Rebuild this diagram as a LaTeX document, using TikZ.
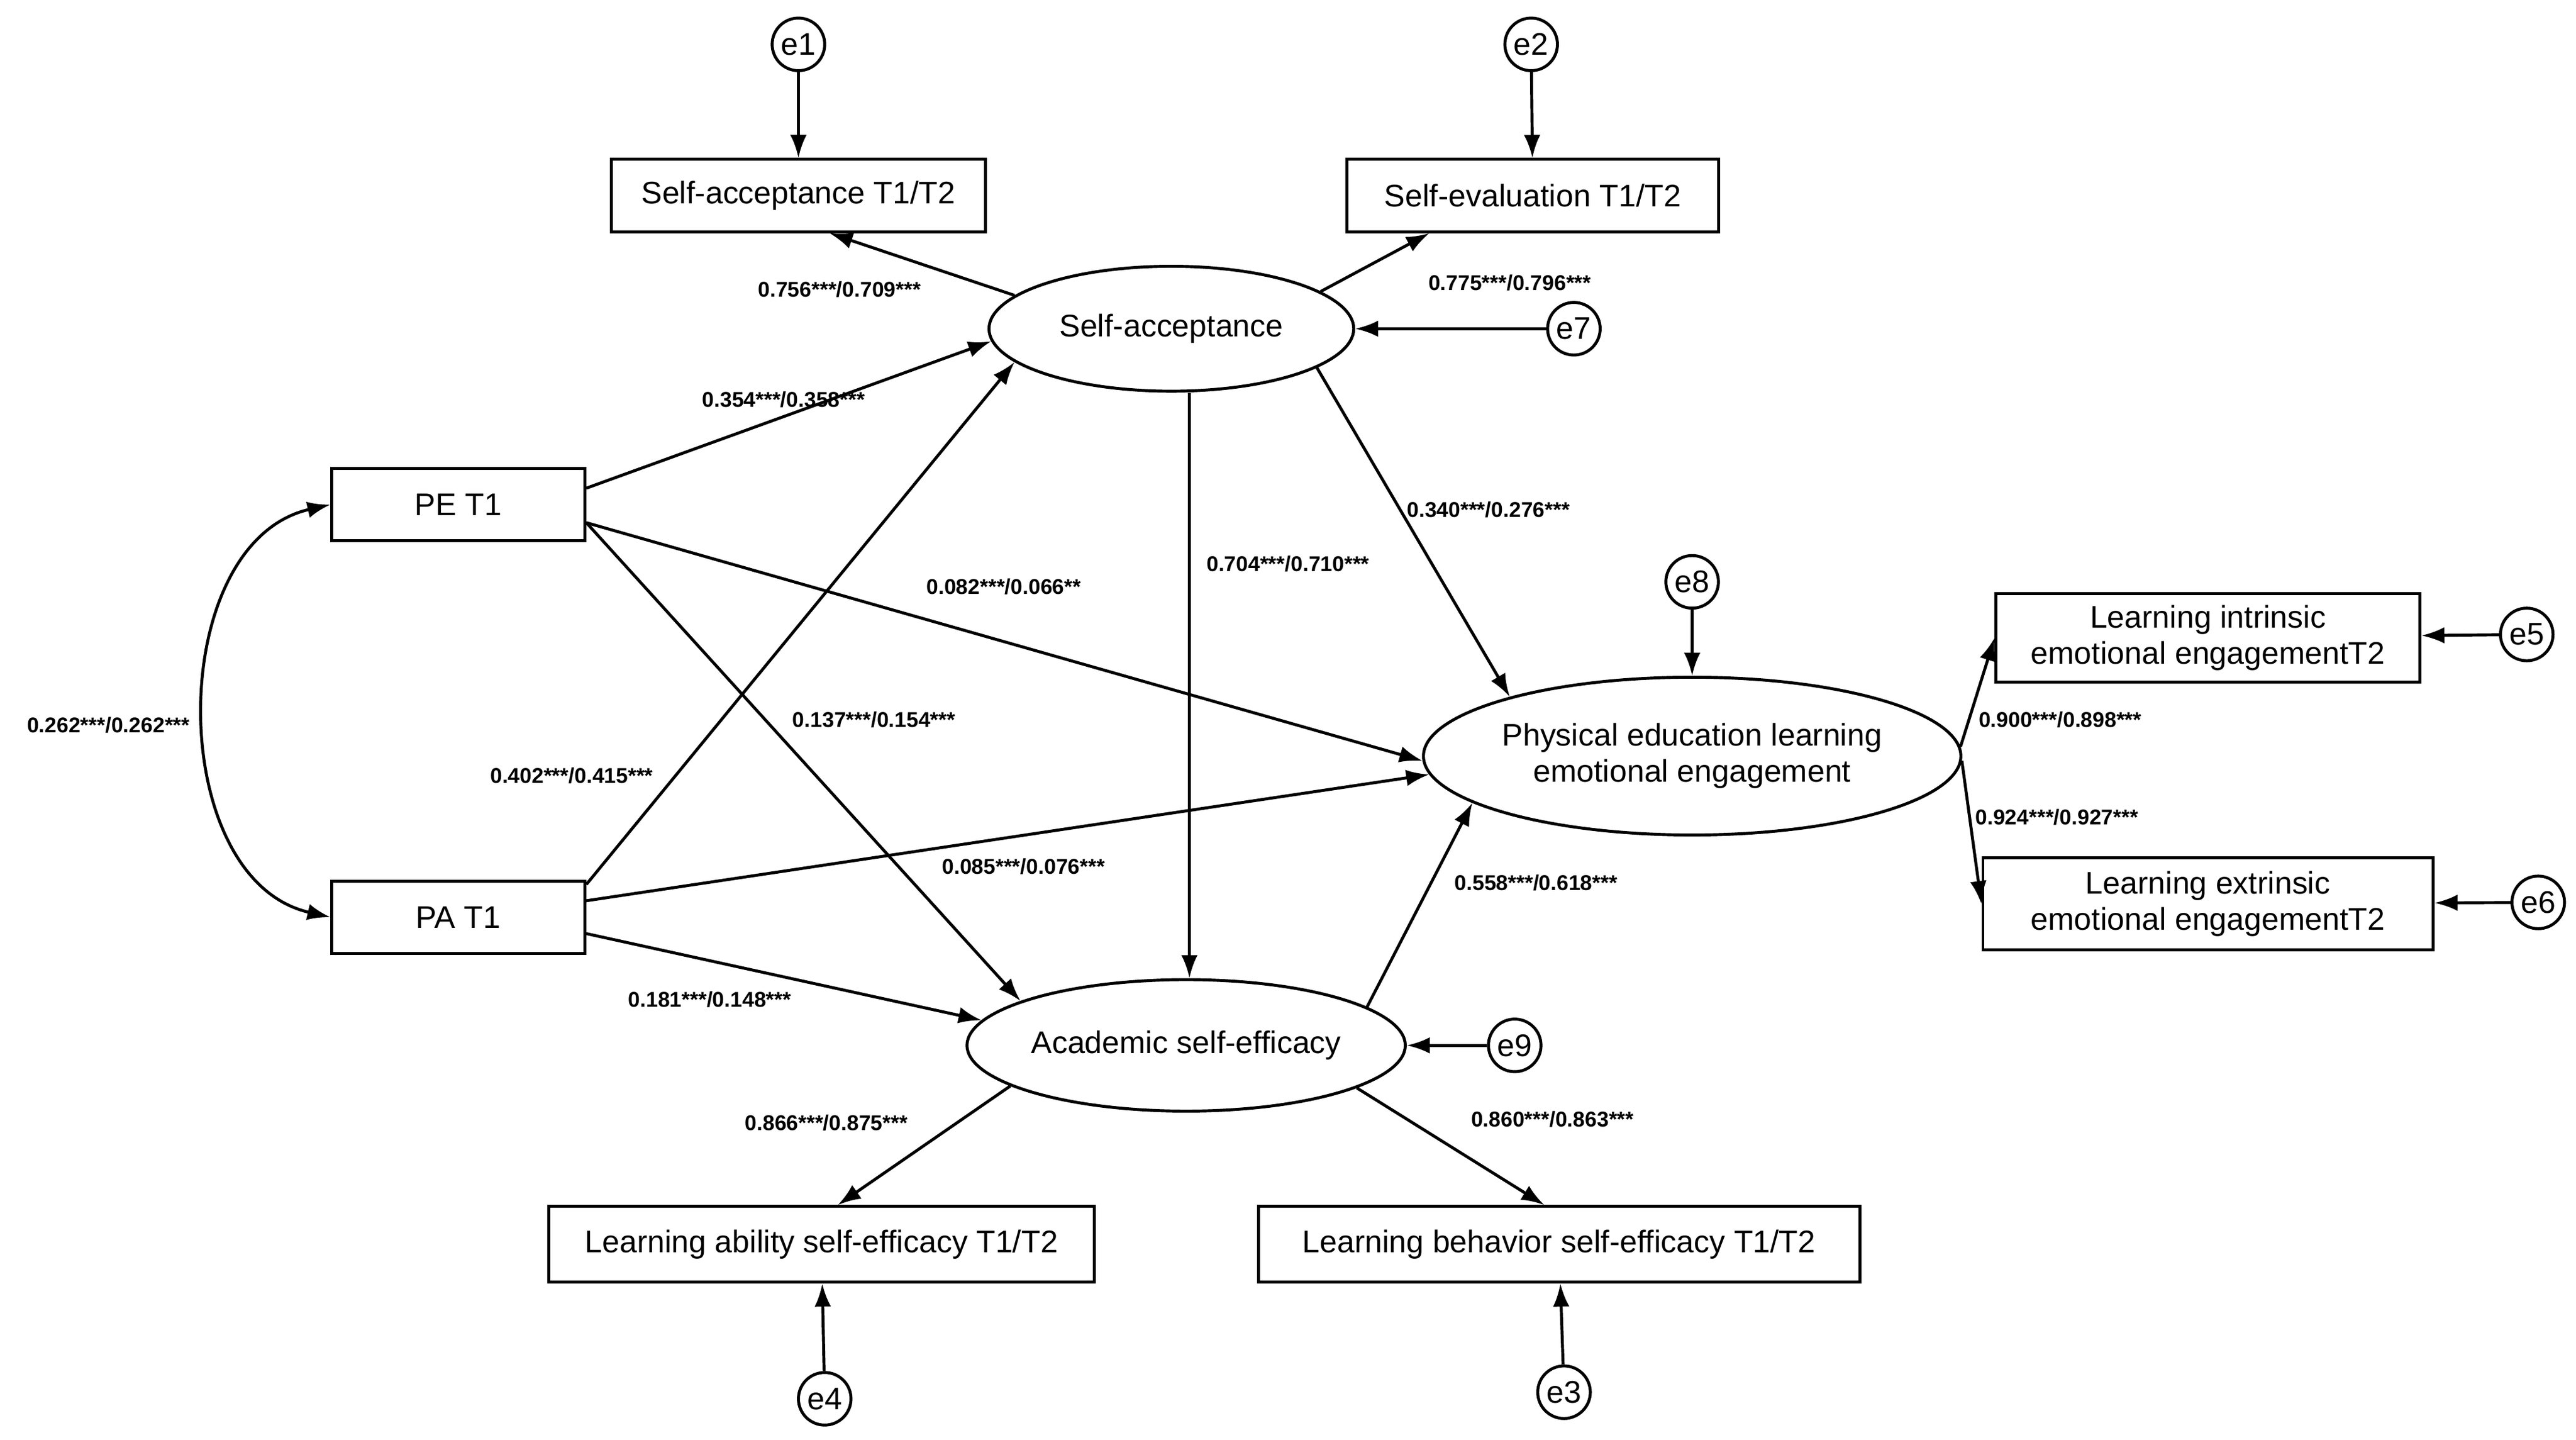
\documentclass[tikz,border=0pt]{standalone}
\usepackage{fontspec}
\setmainfont{Liberation Sans}
\usetikzlibrary{arrows.meta,shapes.geometric,calc}
\begin{document}
\begin{tikzpicture}[x=0.5pt,y=-0.5pt,
  box/.style={draw,line width=0.9pt,minimum height=22pt,inner sep=2pt,font=\fontsize{9.5}{11}\selectfont,align=center},
  lat/.style={draw,ellipse,line width=0.9pt,inner sep=0pt,font=\fontsize{9.5}{11}\selectfont,align=center},
  err/.style={draw,circle,line width=0.9pt,minimum size=16pt,inner sep=0pt,font=\fontsize{9.5}{11}\selectfont},
  arr/.style={line width=0.9pt,-{Latex[length=7pt,width=5pt]}},
  lab/.style={font=\fontsize{6.5}{7}\selectfont\bfseries,inner sep=1pt}]
\useasboundingbox (0,0) rectangle (1568,876);
% observed variables
\node[box,minimum width=114pt] (sa12) at (486,119) {Self-acceptance T1/T2};
\node[box,minimum width=113pt] (se12) at (933,119) {Self-evaluation T1/T2};
\node[box,minimum width=77pt] (pe) at (279,307) {PE T1};
\node[box,minimum width=77pt] (pa) at (279,558) {PA T1};
\node[box,minimum width=129pt,minimum height=27pt,inner sep=1pt] (lie) at (1344,388) {Learning intrinsic\\emotional engagementT2};
\node[box,minimum width=137pt,minimum height=28pt,inner sep=1pt] (lee) at (1344,550) {Learning extrinsic\\emotional engagementT2};
\node[box,minimum width=166pt,minimum height=23pt] (lab1) at (500,757) {Learning ability self-efficacy T1/T2};
\node[box,minimum width=183pt,minimum height=23pt] (lbe) at (949,757) {Learning behavior self-efficacy T1/T2};
% latent variables
\node[lat,minimum width=111pt,minimum height=38pt] (sa) at (713,200) {Self-acceptance};
\node[lat,minimum width=146pt,minimum height=48pt] (pel) at (1030,460) {Physical education learning\\emotional engagement};
\node[lat,minimum width=118pt,minimum height=40pt] (ase) at (722,636) {Academic self-efficacy};
% errors
\node[err] (e1) at (486,27) {e1};
\node[err] (e2) at (932,27) {e2};
\node[err] (e7) at (958,200) {e7};
\node[err] (e8) at (1030,354) {e8};
\node[err] (e5) at (1538,386) {e5};
\node[err] (e6) at (1545,549) {e6};
\node[err] (e9) at (922,636) {e9};
\node[err] (e4) at (502,851) {e4};
\node[err] (e3) at (952,847) {e3};
% error arrows
\draw[arr] (e1) -- (sa12);
\draw[arr] (e2) -- (se12);
\draw[arr] (e7) -- (sa);
\draw[arr] (e8) -- (pel);
\draw[arr] (e5) -- (lie);
\draw[arr] (e6) -- (lee);
\draw[arr] (e9) -- (ase);
\draw[arr] (e4) -- (lab1);
\draw[arr] (e3) -- (lbe);
% loadings
\draw[arr] (sa.168) -- ($(sa12.south)+(19,0)$);
\draw[arr] (sa.14) -- ($(se12.south)+(-63,0)$);
\draw[arr] (ase.193) -- ($(lab1.north)+(10,0)$);
\draw[arr] (ase.-14) -- ($(lbe.north)+(-9,0)$);
\draw[arr] (pel.2) -- (lie.west);
\draw[arr] (pel.-1) -- (lee.west);
% structural paths
\draw[arr] ($(pe.east)+(0,-10)$) -- (sa.184);
\draw[arr] ($(pa.north east)+(0,3)$) -- (sa.192);
\draw[arr] ($(pe.east)+(0,11)$) -- (pel.181);
\draw[arr] ($(pa.east)+(0,-10)$) -- (pel.184);
\draw[arr] ($(pe.east)+(0,11)$) -- (ase.165);
\draw[arr] ($(pa.east)+(0,10)$) -- (ase.173);
\draw[arr] ($(sa.south)+(11,0)$) -- ($(ase.north)+(2,0)$);
\draw[arr] (sa.-15) -- (pel.162);
\draw[arr] (ase.12) -- (pel.192);
\draw[line width=0.9pt,{Latex[length=7pt,width=5pt]}-{Latex[length=7pt,width=5pt]}] (pe.west) .. controls (100,330) and (100,535) .. (pa.west);
% labels
\node[lab] at (511,176) {0.756***/0.709***};
\node[lab] at (919,172) {0.775***/0.796***};
\node[lab] at (477,243) {0.354***/0.358***};
\node[lab] at (906,310) {0.340***/0.276***};
\node[lab] at (784,343) {0.704***/0.710***};
\node[lab] at (611,357) {0.082***/0.066**};
\node[lab] at (532,438) {0.137***/0.154***};
\node[lab] at (66,441) {0.262***/0.262***};
\node[lab] at (348,472) {0.402***/0.415***};
\node[lab] at (623,527) {0.085***/0.076***};
\node[lab] at (935,537) {0.558***/0.618***};
\node[lab] at (432,608) {0.181***/0.148***};
\node[lab] at (503,683) {0.866***/0.875***};
\node[lab] at (945,681) {0.860***/0.863***};
\node[lab] at (1254,438) {0.900***/0.898***};
\node[lab] at (1252,497) {0.924***/0.927***};
\end{tikzpicture}
\end{document}
